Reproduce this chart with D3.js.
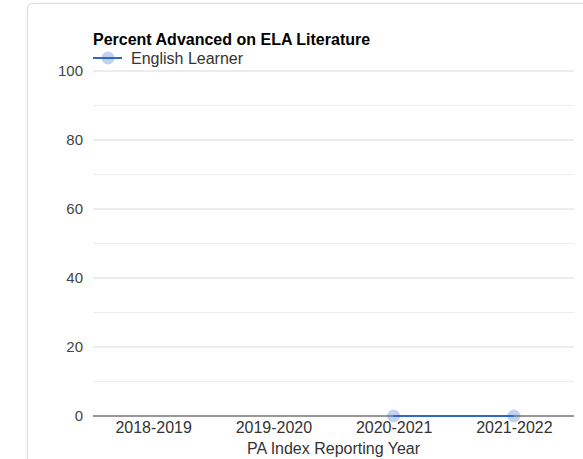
<!DOCTYPE html>
<html>
<head>
<meta charset="utf-8">
<script src="https://cdn.jsdelivr.net/npm/d3@7"></script>
<style>
  body { margin: 0; background: #fff; font-family: Arial, "Liberation Sans", sans-serif; }
  .card { position: absolute; left: 27px; top: 3px; width: 600px; height: 500px;
          border: 1px solid #dcdcdc; border-radius: 6px; box-shadow: 0 0 3px rgba(0,0,0,0.08); }
  svg { position: absolute; left: 0; top: 0; }
</style>
</head>
<body>
<div class="card"></div>
<div id="chart"></div>
<script>
// chart data
const years = ['2018-2019', '2019-2020', '2020-2021', '2021-2022'];
const englishLearner = [null, null, 0, 0];
const yTicks = [0, 20, 40, 60, 80, 100];
const minorTicks = [10, 30, 50, 70, 90];

const config = {
  width: 583,
  height: 459,
  margin: {top: 71, right: 9, bottom: 43, left: 93}
};
const innerW = config.width - config.margin.left - config.margin.right;
const innerH = config.height - config.margin.top - config.margin.bottom;

const svg = d3.select('#chart').append('svg')
    .attr('width', config.width)
    .attr('height', config.height);

const chart = svg.append('g')
    .attr('transform', `translate(${config.margin.left},${config.margin.top})`);

const xScale = d3.scalePoint().domain(years).range([0, innerW]).padding(0.5);
const yScale = d3.scaleLinear().domain([0, 100]).range([innerH, 0]);

// gridlines
chart.append('g').selectAll('line.minor')
    .data(minorTicks)
  .join('line')
    .attr('x1', 0).attr('x2', innerW)
    .attr('y1', d => yScale(d)).attr('y2', d => yScale(d))
    .attr('stroke', '#ededed');

chart.append('g').selectAll('line.major')
    .data(yTicks.filter(d => d > 0))
  .join('line')
    .attr('x1', 0).attr('x2', innerW)
    .attr('y1', d => yScale(d)).attr('y2', d => yScale(d))
    .attr('stroke', '#dadada');

// y axis labels
const yAxis = d3.axisLeft(yScale).tickValues(yTicks).tickSize(0).tickPadding(10);
chart.append('g')
    .call(yAxis)
    .call(g => g.select('.domain').remove())
    .call(g => g.selectAll('text')
        .attr('fill', '#444')
        .style('font-size', '15px')
        .style('font-family', 'Arial, "Liberation Sans", sans-serif'));

// x axis labels
const xAxis = d3.axisBottom(xScale).tickSize(0).tickPadding(6);
chart.append('g')
    .attr('transform', `translate(0,${innerH})`)
    .call(xAxis)
    .call(g => g.select('.domain').remove())
    .call(g => g.selectAll('text')
        .attr('fill', '#333')
        .style('font-size', '16px')
        .style('font-family', 'Arial, "Liberation Sans", sans-serif'));

// baseline
chart.append('line')
    .attr('x1', 0).attr('x2', innerW)
    .attr('y1', yScale(0)).attr('y2', yScale(0))
    .attr('stroke', '#333').attr('stroke-width', 1);

// series
const pts = years.map((y, i) => ({year: y, value: englishLearner[i]}));
const line = d3.line()
    .defined(d => d.value !== null)
    .x(d => xScale(d.year))
    .y(d => yScale(d.value));

chart.append('path')
    .datum(pts)
    .attr('fill', 'none')
    .attr('stroke', '#3366cc')
    .attr('stroke-width', 2)
    .attr('d', line);

chart.selectAll('.point')
    .data(pts.filter(d => d.value !== null))
  .join('circle')
    .attr('class', 'point')
    .attr('cx', d => xScale(d.year))
    .attr('cy', d => yScale(d.value))
    .attr('r', 6.5)
    .attr('fill', '#3366cc')
    .attr('fill-opacity', 0.3);

// x axis title
svg.append('text')
    .attr('x', config.margin.left + innerW / 2)
    .attr('y', 454)
    .attr('text-anchor', 'middle')
    .attr('fill', '#333')
    .style('font-size', '16px')
    .text('PA Index Reporting Year');

// title
svg.append('text')
    .attr('x', 93)
    .attr('y', 45)
    .attr('fill', '#000')
    .style('font-size', '16px')
    .style('font-weight', 'bold')
    .text('Percent Advanced on ELA Literature');

// legend
const legend = svg.append('g');
legend.append('line')
    .attr('x1', 93).attr('x2', 122)
    .attr('y1', 58).attr('y2', 58)
    .attr('stroke', '#3366cc').attr('stroke-width', 2);
legend.append('circle')
    .attr('cx', 108).attr('cy', 58).attr('r', 6.5)
    .attr('fill', '#3366cc').attr('fill-opacity', 0.3);
legend.append('text')
    .attr('x', 131).attr('y', 64)
    .attr('fill', '#333')
    .style('font-size', '16px')
    .text('English Learner');
</script>
</body>
</html>
